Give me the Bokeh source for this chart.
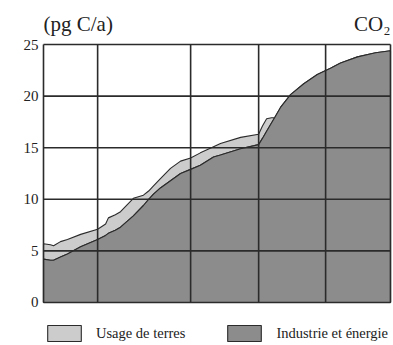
from bokeh.plotting import figure
from bokeh.models import FixedTicker, Legend, LegendItem, Label
from bokeh.embed import file_html
from bokeh.resources import INLINE

# x: relative time position (0..100), no labelled x axis in the original
t = [0, 2.0, 2.9, 4.9, 6.9, 10.7, 15.6, 17.9, 18.7, 20.7, 22.2, 25.9, 28.8, 30.3,
     31.7, 33.7, 36.6, 39.5, 42.4, 45.2, 49.0, 51.0, 56.8, 62.0, 63.1, 64.3, 65.7,
     66.6, 68.3, 71.2, 75.0, 78.9, 82.7, 85.6, 90.5, 95.7, 100]
industrie = [4.2, 4.1, 4.1, 4.4, 4.7, 5.4, 6.1, 6.5, 6.7, 7.0, 7.3, 8.4, 9.4, 10.0,
             10.5, 11.1, 11.8, 12.5, 12.9, 13.3, 14.1, 14.3, 14.9, 15.3, 15.9, 16.6, 17.4,
             17.9, 18.9, 20.15, 21.2, 22.1, 22.7, 23.2, 23.8, 24.2, 24.4]
total = [5.7, 5.6, 5.5, 5.9, 6.1, 6.6, 7.1, 7.6, 8.2, 8.5, 8.8, 10.1, 10.4, 10.8,
         11.3, 12.0, 13.0, 13.7, 14.0, 14.5, 15.1, 15.4, 16.0, 16.3, 17.1, 17.8, 17.9,
         17.9, 18.9, 20.15, 21.2, 22.1, 22.7, 23.2, 23.8, 24.2, 24.4]
y_ticks = [0, 5, 10, 15, 20, 25]
x_grid = [0, 15.6, 42.4, 62.0, 81.3, 100]

LIGHT = "#cccccc"
DARK = "#8c8c8c"
INK = "#2b2b2b"
TXT = "#222222"
SERIF = "Liberation Serif"

x0, x1 = t[0], t[-1]
y0, y1 = y_ticks[0], y_ticks[-1]

# the frame spans the whole figure height so that the header and legend stay visible
p = figure(width=393, height=345, output_backend="svg", toolbar_location=None,
           x_range=(x0 - 0.576, x1 + 0.576), y_range=(y0 - 4.167, y1 + 4.264),
           min_border_left=41, min_border_right=1, min_border_top=0, min_border_bottom=0)
p.background_fill_color = "white"
p.border_fill_color = "white"
p.outline_line_color = None
p.xaxis.visible = False
p.grid.visible = False

# areas (patches draw with an outline)
light_x = t + t[::-1]
light_y = total + industrie[::-1]
dark_x = t + [x1, x0]
dark_y = industrie + [y0, y0]
r_light = p.patch(light_x, light_y, fill_color=LIGHT, line_color=INK, line_width=1.1)
r_dark = p.patch(dark_x, dark_y, fill_color=DARK, line_color=INK, line_width=1.1)

# grid and frame lines on top of the areas
p.segment(x0=x_grid, y0=[y0] * len(x_grid), x1=x_grid, y1=[y1] * len(x_grid),
          line_color=INK, line_width=1.6)
p.segment(x0=[x0] * len(y_ticks), y0=y_ticks, x1=[x1] * len(y_ticks), y1=y_ticks,
          line_color=INK, line_width=1.6)

ya = p.yaxis[0]
ya.ticker = FixedTicker(ticks=y_ticks)
ya.axis_line_color = None
ya.major_tick_line_color = None
ya.minor_tick_line_color = None
ya.major_tick_out = 0
ya.major_tick_in = 0
ya.major_label_standoff = 3
ya.major_label_text_font = SERIF
ya.major_label_text_font_size = "15px"
ya.major_label_text_color = TXT

p.add_layout(Label(x=x0, y=y1 + 0.8, text="(pg C/a)", text_font=SERIF,
                   text_font_size="21px", text_color=TXT, text_baseline="bottom"))
p.add_layout(Label(x=x1, y=y1 + 0.8, text="CO₂", text_font=SERIF,
                   text_font_size="21px", text_color=TXT, text_align="right",
                   text_baseline="bottom"))

legend = Legend(items=[LegendItem(label="Usage de terres", renderers=[r_light]),
                       LegendItem(label="Industrie et énergie", renderers=[r_dark])],
                orientation="horizontal", location=(2, 2), margin=0, padding=0,
                glyph_width=42, glyph_height=20, label_standoff=11, spacing=38,
                label_text_font=SERIF, label_text_font_size="14.5px",
                label_text_color=TXT, border_line_color=None,
                background_fill_alpha=0)
p.add_layout(legend)

open("out.html", "w").write(file_html(p, INLINE))
